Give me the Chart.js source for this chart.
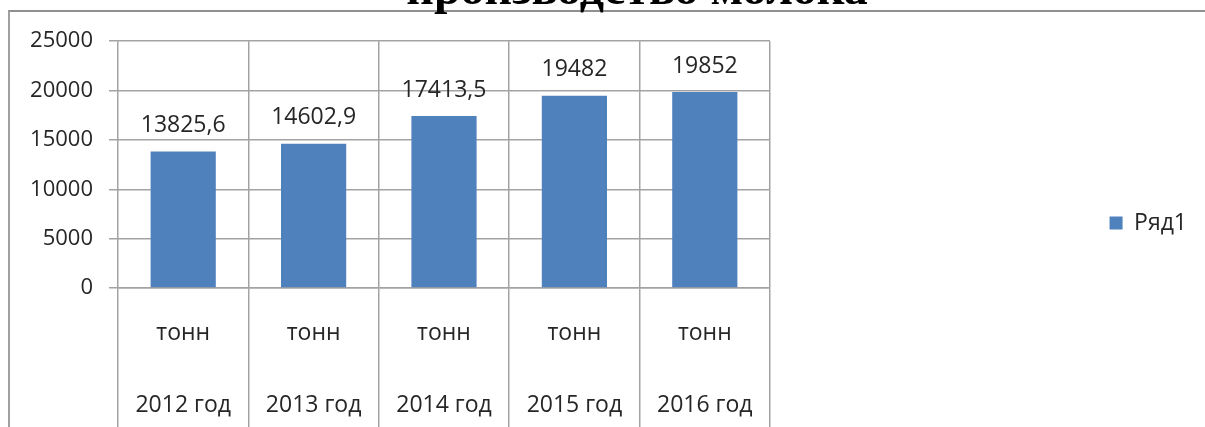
<!DOCTYPE html>
<html>
<head>
<meta charset="utf-8">
<script src="https://cdn.jsdelivr.net/npm/chart.js@4/dist/chart.umd.min.js"></script>
<style>
  html, body { margin:0; padding:0; background:#fff; width:1205px; height:427px; overflow:hidden; position:relative; }
  #title { position:absolute; left:637px; top:-36px; transform:translateX(-50%); white-space:nowrap;
           font-family:"Liberation Serif", serif; font-weight:bold; font-size:48px; line-height:48px; color:#000; z-index:2; }
  #frame { position:absolute; left:8px; top:10px; width:1197px; height:430px;
           border-left:2px solid #a0a0a0; border-top:2px solid #909090; }
  #wrap { position:absolute; left:0; top:0; width:1195px; height:422px; }
</style>
</head>
<body>
<div id="title">производство молока</div>
<div id="frame"><div id="wrap"><canvas id="c"></canvas></div></div>
<script>
// ---- data ----
const years = ['2012 год', '2013 год', '2014 год', '2015 год', '2016 год'];
const units = ['тонн', 'тонн', 'тонн', 'тонн', 'тонн'];
const seriesName = 'Ряд1';
const values = [13825.6, 14602.9, 17413.5, 19482, 19852];
const yTicks = [0, 5000, 10000, 15000, 20000, 25000];

const FONT = '"Open Sans", "Noto Sans", sans-serif';
const TEXT = '#262626';
const GRID = '#a3a3a3';
const BAR = '#4F81BD';

const labels = years.map((y, i) => [units[i], y]);

const dataLabels = {
  id: 'dataLabels',
  afterDatasetsDraw(chart) {
    const ctx = chart.ctx;
    const meta = chart.getDatasetMeta(0);
    ctx.save();
    ctx.font = '23px ' + FONT;
    ctx.fillStyle = TEXT;
    ctx.textAlign = 'center';
    ctx.textBaseline = 'middle';
    meta.data.forEach((bar, i) => {
      ctx.fillText(String(values[i]).replace('.', ','), bar.x, bar.y - 26);
    });
    ctx.restore();
  }
};

new Chart(document.getElementById('c'), {
  type: 'bar',
  data: {
    labels: labels,
    datasets: [{
      label: seriesName,
      data: values,
      backgroundColor: BAR,
      borderWidth: 0,
      barPercentage: 0.5,
      categoryPercentage: 1.0,
      xAxisID: 'x',
      yAxisID: 'y'
    }]
  },
  options: {
    responsive: true,
    maintainAspectRatio: false,
    animation: false,
    layout: { padding: { left: 0, top: 0, bottom: 0, right: 8 } },
    plugins: {
      legend: {
        position: 'right',
        labels: {
          boxWidth: 13, boxHeight: 13, padding: 10,
          color: TEXT,
          font: { family: FONT, size: 23 }
        }
      },
      tooltip: { enabled: false },
      title: { display: false }
    },
    scales: {
      x: {
        type: 'category',
        position: 'bottom',
        offset: true,
        grid: { display: true, offset: true, color: GRID, lineWidth: 1.5, drawTicks: true, tickLength: 160, tickColor: GRID },
        border: { display: true, color: GRID, width: 1.5 },
        ticks: {
          autoSkip: false, maxRotation: 0, minRotation: 0,
          padding: -151,
          color: TEXT,
          font: { family: FONT, size: 23, lineHeight: 72 / 23 }
        },
        afterFit(s) { s.height = 146; }
      },
      x2: {
        type: 'category',
        position: 'top',
        display: true,
        grid: { display: false, drawTicks: false },
        border: { display: false },
        ticks: { display: false },
        afterFit(s) { s.height = 27; }
      },
      y: {
        type: 'linear',
        position: 'left',
        min: 0, max: 25000,
        afterBuildTicks(s) { s.ticks = yTicks.map(v => ({ value: v })); },
        grid: { color: GRID, lineWidth: 1.5, drawTicks: true, tickLength: 9, tickColor: GRID },
        border: { display: false },
        ticks: {
          padding: 16,
          color: TEXT,
          font: { family: FONT, size: 22 },
          callback: v => String(v)
        },
        afterFit(s) { s.width = 108; }
      },
      y2: {
        type: 'linear',
        position: 'right',
        display: true,
        grid: { display: false, drawTicks: false },
        border: { display: false },
        ticks: { display: false },
        afterFit(s) {
          const lw = s.chart.legend ? s.chart.legend.width : 90;
          s.width = 1195 - 8 - lw - 760;
        }
      }
    }
  },
  plugins: [dataLabels]
});
</script>
</body>
</html>
